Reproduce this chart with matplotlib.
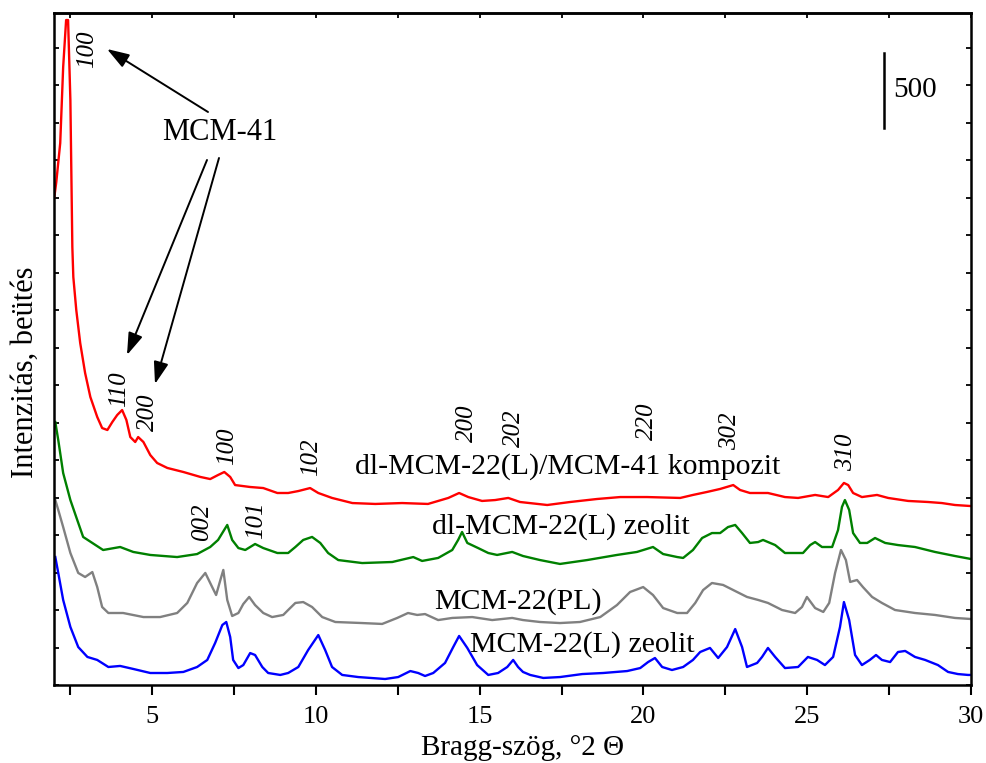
import matplotlib
matplotlib.use("Agg")
import matplotlib.pyplot as plt
import numpy as np

plt.rcParams['font.family'] = ['Liberation Serif', 'DejaVu Serif']
plt.rcParams['mathtext.fontset'] = 'stix'

# XRD patterns (2 theta, intensity as plotted, counts)
red_x = [2.01, 2.07, 2.19, 2.28, 2.37, 2.43, 2.50, 2.56, 2.59, 2.68, 2.80, 2.95, 3.11, 3.32, 3.47,
         3.63, 3.78, 3.93, 4.08, 4.21, 4.33, 4.48, 4.57, 4.73, 4.94, 5.15, 5.46, 5.95, 6.47, 6.77,
         7.01, 7.20, 7.38, 7.53, 7.99, 8.39, 8.82, 9.15, 9.46, 9.82, 10.07, 10.49, 11.11, 11.81,
         12.63, 13.42, 14.04, 14.37, 14.65, 15.07, 15.47, 15.87, 16.23, 17.06, 17.76, 18.58, 19.29,
         20.11, 21.12, 21.51, 21.94, 22.34, 22.74, 22.95, 23.25, 23.80, 24.32, 24.72, 25.24, 25.64,
         25.94, 26.12, 26.25, 26.40, 26.67, 27.13, 27.47, 28.08, 28.69, 29.11, 29.51, 30.0]
red_y = [3253, 3353, 3613, 4120, 4433, 4433, 3900, 2920, 2720, 2500, 2280, 2080, 1920, 1787, 1713,
         1700, 1753, 1800, 1833, 1767, 1653, 1620, 1653, 1620, 1533, 1480, 1447, 1420, 1387, 1373,
         1400, 1420, 1387, 1333, 1320, 1313, 1280, 1280, 1293, 1313, 1280, 1247, 1213, 1207,
         1213, 1207, 1247, 1280, 1253, 1227, 1233, 1247, 1220, 1200, 1220, 1240, 1253,
         1253, 1247, 1267, 1287, 1307, 1333, 1300, 1280, 1280, 1253, 1247, 1267, 1253,
         1300, 1347, 1333, 1280, 1253, 1267, 1247, 1227, 1220, 1213, 1200, 1193]

green_x = [2.04, 2.13, 2.28, 2.50, 2.71, 2.89, 3.17, 3.50, 4.02, 4.42, 4.94, 5.76, 6.37, 6.77, 7.01,
           7.29, 7.44, 7.63, 7.84, 8.14, 8.39, 8.82, 9.15, 9.37, 9.61, 9.88, 10.13, 10.37, 10.68,
           11.41, 12.33, 12.97, 13.24, 13.73, 14.16, 14.34, 14.46, 14.62, 14.95, 15.26, 15.53,
           15.99, 16.32, 16.84, 17.45, 18.28, 19.19, 19.80, 20.29, 20.60, 21.03, 21.21, 21.51,
           21.79, 22.09, 22.34, 22.58, 22.80, 23.01, 23.25, 23.50, 23.65, 24.02, 24.32, 24.63,
           24.87, 25.09, 25.24, 25.45, 25.76, 25.94, 26.06, 26.15, 26.28, 26.40, 26.61, 26.83,
           27.07, 27.38, 27.77, 28.29, 28.90, 29.51, 30.0]
green_y = [1753, 1633, 1413, 1233, 1100, 987, 947, 900, 920, 887, 867, 853, 873, 920, 967,
           1067, 967, 913, 900, 940, 913, 880, 880, 920, 967, 987, 947, 880, 833,
           813, 820, 853, 827, 847, 900, 967, 1020, 947, 913, 880, 867,
           887, 860, 833, 807, 833, 867, 887, 920, 873, 853, 847, 900,
           980, 1013, 1013, 1053, 1067, 1013, 947, 953, 967, 933, 880, 880,
           880, 933, 953, 920, 920, 1033, 1187, 1233, 1167, 1013, 947, 947,
           980, 947, 933, 920, 887, 860, 840]

gray_x = [2.04, 2.13, 2.28, 2.50, 2.74, 2.95, 3.17, 3.32, 3.47, 3.66, 4.11, 4.73, 5.24, 5.76, 6.07,
          6.37, 6.62, 6.83, 6.95, 7.08, 7.17, 7.29, 7.44, 7.63, 7.78, 7.96, 8.14, 8.39, 8.66, 9.00,
          9.15, 9.37, 9.61, 9.88, 10.19, 10.59, 11.41, 12.02, 12.48, 12.81, 13.09, 13.33, 13.73,
          14.16, 14.77, 15.38, 15.99, 16.32, 16.84, 17.45, 18.06, 18.68, 19.19, 19.59, 19.99,
          20.29, 20.60, 21.03, 21.33, 21.58, 21.82, 22.09, 22.43, 22.74, 23.16, 23.50, 23.80,
          24.23, 24.63, 24.84, 24.99, 25.24, 25.49, 25.67, 25.85, 26.03, 26.18, 26.31, 26.52,
          26.70, 26.98, 27.28, 27.68, 28.29, 28.90, 29.51, 30.0]
gray_y = [1233, 1167, 1053, 880, 747, 720, 753, 653, 520, 480, 480, 453, 453, 480, 547,
          680, 747, 653, 600, 700, 767, 567, 460, 480, 540, 587, 533, 480, 453, 467,
          500, 547, 553, 520, 453, 420, 413, 407, 447, 480, 467, 473, 433,
          447, 453, 433, 447, 433, 420, 413, 420, 453, 533, 620, 653,
          600, 513, 480, 480, 547, 633, 680, 667, 633, 587, 567, 547,
          500, 480, 520, 587, 513, 487, 547, 747, 900, 833, 687, 700,
          653, 587, 547, 500, 480, 467, 447, 440]

blue_x = [2.04, 2.13, 2.28, 2.50, 2.74, 3.02, 3.32, 3.66, 4.02, 4.42, 4.94, 5.46, 5.95, 6.37, 6.68,
          6.92, 7.14, 7.26, 7.38, 7.47, 7.63, 7.78, 7.99, 8.14, 8.36, 8.54, 8.91, 9.15, 9.46, 9.76,
          10.07, 10.28, 10.49, 10.80, 11.29, 12.11, 12.51, 12.88, 13.12, 13.33, 13.58, 13.94,
          14.19, 14.37, 14.62, 14.92, 15.26, 15.56, 15.84, 16.02, 16.17, 16.32, 16.54, 16.94,
          17.45, 18.13, 18.77, 19.50, 19.90, 20.14, 20.35, 20.57, 20.87, 21.21, 21.51, 21.73,
          22.03, 22.28, 22.55, 22.80, 23.01, 23.16, 23.47, 23.62, 23.80, 24.02, 24.32, 24.72,
          25.02, 25.30, 25.54, 25.79, 26.00, 26.12, 26.28, 26.46, 26.67, 26.91, 27.10, 27.28,
          27.53, 27.77, 27.99, 28.29, 28.60, 28.99, 29.30, 29.60, 29.91, 30.0]
blue_y = [853, 747, 567, 387, 253, 187, 167, 120, 127, 107, 80, 80, 87, 120, 167,
          280, 400, 420, 320, 167, 113, 133, 213, 200, 120, 80, 67, 80, 120, 233,
          333, 233, 120, 67, 53, 40, 53, 93, 80, 60, 80, 147,
          253, 327, 247, 133, 67, 80, 120, 167, 120, 87, 67, 47,
          53, 73, 80, 93, 113, 153, 180, 120, 100, 120, 167, 220,
          247, 180, 253, 373, 253, 120, 147, 187, 247, 187, 113, 120,
          187, 167, 133, 187, 387, 553, 433, 200, 133, 167, 200, 167,
          153, 220, 227, 187, 167, 133, 87, 73, 67, 67]

series = [
    (red_x, red_y, '#ff0000'),
    (green_x, green_y, '#008000'),
    (gray_x, gray_y, '#808080'),
    (blue_x, blue_y, '#0000ff'),
]

scale_bar = 500
W, H = 987, 763


def fp(x, y):
    # pixel position in the picture -> figure fraction
    return (x / W, 1 - y / H)


fig = plt.figure(figsize=(W / 100, H / 100), dpi=100)
ax = fig.add_axes([54 / W, 1 - 685 / H, (971 - 54) / W, (685 - 13) / H])

for xs, ys, c in series:
    ax.plot(xs, ys, color=c, lw=1.7)

ax.set_xlim(2, 30)
ax.set_ylim(0, 4480)
ax.set_xticks([5, 10, 15, 20, 25, 30])
ax.set_xticks(np.arange(2.5, 30.1, 2.5), minor=True)
ax.set_yticks(np.arange(0, 4480, 250))
ax.set_yticklabels([])
for s in ax.spines.values():
    s.set_linewidth(1.8)
ax.tick_params(axis='x', which='both', direction='out', bottom=True, top=False,
               length=7, width=1.5, labelsize=19, pad=8)
ax.tick_params(axis='y', which='both', direction='in', left=True, right=True,
               length=3.5, width=1.3)
sec = ax.secondary_xaxis('top')
sec.set_xticks(np.arange(2.5, 30.1, 2.5))
sec.set_xticklabels([])
sec.tick_params(direction='in', length=3.5, width=1.3)
sec.spines['top'].set_linewidth(1.8)

fig.text(*fp(523, 748), 'Bragg-szög, °2 Θ', fontsize=21, ha='center', va='center')
fig.text(*fp(25, 372), 'Intenzitás, beütés', fontsize=22, ha='center', va='center', rotation=90)

# scale bar
xb = 5 + (884 - 152) / 32.76
ax.plot([xb, xb], [3713, 3713 + scale_bar], color='k', lw=1.8)
fig.text(*fp(893, 90), str(scale_bar), fontsize=21, ha='left', va='center')

# sample names
names = [
    ('dl-MCM-22(L)/MCM-41 kompozit', 355, 467),
    ('dl-MCM-22(L) zeolit', 432, 527),
    ('MCM-22(PL)', 434, 602),
    ('MCM-22(L) zeolit', 470, 645),
]
for t, x, y in names:
    fig.text(*fp(x, y), t, fontsize=21.5, ha='left', va='center')

# reflection indices
hkl = [
    ('100', 87, 49), ('110', 119, 389), ('200', 148, 412), ('100', 227, 446),
    ('102', 311, 457), ('200', 467, 423), ('202', 514, 428), ('220', 647, 421),
    ('302', 730, 431), ('310', 846, 452), ('002', 202, 522), ('101', 256, 520),
]
for t, x, y in hkl:
    fig.text(*fp(x, y), t, fontsize=18, style='italic', rotation=90,
             ha='center', va='center')

fig.text(*fp(220, 133), 'MCM-41', fontsize=22, ha='center', va='center')
arrows = [((208, 112), (107, 49)), ((207, 160), (127, 355)), ((219, 158), (155, 384))]
for (x0, y0), (x1, y1) in arrows:
    ax.annotate('', xy=fp(x1, y1), xytext=fp(x0, y0), xycoords='figure fraction',
                textcoords='figure fraction',
                arrowprops=dict(arrowstyle='-|>,head_length=0.9,head_width=0.3',
                                color='k', lw=1.4, mutation_scale=15,
                                shrinkA=0, shrinkB=0))

fig.savefig('out.png', dpi=100)
